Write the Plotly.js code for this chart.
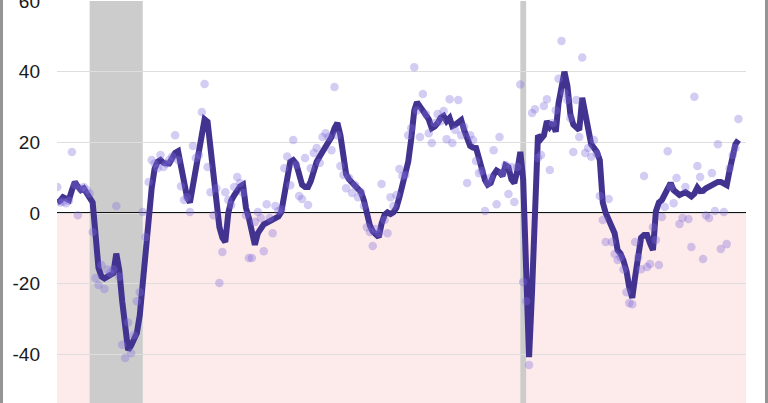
<!DOCTYPE html>
<html>
<head>
<meta charset="utf-8">
<script src="https://cdn.plot.ly/plotly-3.0.1.min.js"></script>
<style>
  html, body { margin: 0; padding: 0; overflow: hidden; background: #fff; }
  #wrap { position: relative; width: 768px; height: 403px; overflow: hidden; }
  #chart { position: absolute; left: 0; top: -30px; }
  .edge { position: absolute; top: 0; width: 3px; height: 403px; background: #959595; }
</style>
</head>
<body>
<div id="wrap">
  <div id="chart"></div>
  <div class="edge" style="left:0"></div>
  <div class="edge" style="right:0"></div>
</div>
<script>
// First month of the series; one value per month afterwards
const startYear = 2007;
const startMonth = 1;

// Smoothed index (line)
const smoothed = [
  3.0, 3.5, 4.5, 4.0, 3.7, 6.5, 8.8, 7.5, 6.5, 7.0,
  5.7, 4.5, 3.0, -6.5, -15.5, -18, -18.5, -18, -17.5, -17,
  -11.5, -16, -25, -33, -38.8, -37.5, -35.5, -34, -29, -19,
  -10.5, -1, 7, 12.5, 14.5, 15, 14.2, 14, 14, 15.5,
  17, 17.5, 13, 9, 4.5, 3, 7.5, 13.5, 16, 21,
  26.5, 25.8, 19, 9, 2, -4, -7, -8.2, 0, 3.5,
  5, 6.5, 7.5, 8, 1.5, -1.5, -6, -9, -5.7, -4,
  -3.2, -2.8, -2.4, -2, -1.4, -1, 0.3, 5.5, 11, 14.5,
  15, 14, 11, 8, 7.4, 7.4, 9, 12, 14.5, 16,
  17.3, 19, 20.5, 21.5, 24, 25.5, 22, 15.5, 11, 9.5,
  8.5, 7.8, 7, 6, 3.5, 0, -3.5, -5.2, -6, -6.8,
  -3, -0.5, 0.2, -0.3, 0.2, 1.5, 4.5, 8, 10.5, 14.5,
  21, 29, 31.4, 30, 28.6, 27.5, 26.5, 24, 24.5, 25.5,
  27, 27.5, 26, 26.9, 24.6, 25, 25.8, 26.3, 23.5, 20.5,
  19, 18.5, 18.4, 15.5, 12, 9.3, 8, 8.5, 10.8, 12,
  11.5, 10.5, 13.5, 13, 9.5, 8.5, 12, 17.3, 9.5, -14,
  -40.8, -22, 5, 22, 21, 22, 26, 24.4, 25.5, 23,
  31, 37, 40, 36, 28, 25, 24.2, 23.5, 32.6, 28.5,
  22.5, 19.5, 18.5, 17.3, 15, 3, 0, -2.3, -4, -5.7,
  -10.5, -11.5, -13.5, -16.5, -21, -24, -18, -13, -7, -6.2,
  -6.2, -8.5, -10.5, 0.5, 3, 3.7, 5, 6.5, 8.5, 6.5,
  5.5, 5.1, 5.5, 5.9, 5.3, 4.7, 5.5, 7.2, 6.2, 6.3,
  7, 7.5, 7.9, 8.5, 8.8, 8.8, 8.4, 7.9, 12.2, 17,
  19.5, 20.7
];

// Monthly readings (dots)
const monthly = [
  7.4, 3, 3.2, 2.8, 3.5, 17.3, 8, -0.6, 6.8, 7.4,
  6.5, 5.5, -5.4, -18.4, -20.4, -14.7, -21.5, -16, -17, -16,
  2, -18, -37.3, -41, -31, -39.6, -34.6, -25, -22.4, 0.3,
  -6.8, 8.8, 15, 14, 12.7, 16.4, 13, 14, 15, 16,
  22, 15, 7.6, 3.7, 4.5, 0.3, 19, 15.6, 16.4, 28.6,
  36.5, 13, 5.9, -0.6, 7, -19.8, -11, 5.9, 3.7, 2.3,
  7.4, 10.2, 8.5, 5.7, -0.6, -12.7, -12.7, -2.5, 0.3, -1.4,
  -10.8, 2.5, -1.4, -5.7, 2, 0.6, 1, 12.7, 16, 7.9,
  20.7, 13.6, 4.8, 4, 15.6, 2.3, 12.7, 17, 18.4, 14.2,
  21.5, 22.6, 21.5, 17.8, 35.7, 22, 13.3, 10.8, 7, 9.9,
  5.7, 7.9, 4.5, 5.9, 2, -4, -5.4, -9.3, -4.5, -5.7,
  8.2, -2, -5.7, 4.5, 2, 5.1, 12.5, 10.5, 10.8, 22,
  24, 41.3, 29, 21.5, 33.7, 28, 22.6, 19.8, 25.5, 28,
  26, 28.9, 20.9, 32.2, 19.8, 23.5, 32, 22, 24.4, 8.5,
  22, 20.7, 14.7, 11.3, 11.9, 0.6, 8.5, 10, 17.8, 2.5,
  21.5, 11.3, 13.6, 5.4, 13, 3.1, 13, 36.4, -19.5, -25,
  -43, 28.3, 29.4, 15.6, 16.4, 30.3, 32.2, 12.2, 25.5, 29.1,
  38, 48.7, 34, 32, 26.9, 17.3, 32, 21.5, 44, 17,
  18.4, 15.9, 20.7, 16.7, 4.8, -2, -8.2, 4, -8.2, -11.6,
  -13.3, -12.5, -16, -22.4, -25.5, -25.8, -8.2, -12.5, -15.9, 10.5,
  -15.3, -14.4, -4, -7.6, -14.7, -1.1, 1.7, 17.5, 7.4, 2.8,
  9.9, -3.1, -1.4, 7.4, -1.7, -9.6, 32.9, 13.3, 10.2, -13,
  -0.6, -1.4, 11.3, 0.6, 19.5, -10.2, 0.3, -8.8, 12.7, 16.4,
  18.4, 26.6
];

// Recession periods
const recessionStarts = ['2007-12-01', '2020-02-01'];
const recessionEnds = ['2009-06-01', '2020-04-01'];

const yTicks = [-40, -20, 0, 20, 40, 60];

function monthDate(i) {
  const m0 = (startMonth - 1) + i;
  const y = startYear + Math.floor(m0 / 12);
  const m = (m0 % 12) + 1;
  return y + '-' + String(m).padStart(2, '0') + '-01';
}
const n = Math.max(smoothed.length, monthly.length);
const months = [];
for (let i = 0; i < n; i++) months.push(monthDate(i));

const shapes = [];
// negative territory
shapes.push({
  type: 'rect', xref: 'paper', yref: 'y', x0: 0, x1: 1, y0: -100, y1: 0,
  fillcolor: '#fdeaea', line: { width: 0 }, layer: 'below'
});
for (let k = 0; k < recessionStarts.length; k++) {
  shapes.push({
    type: 'rect', xref: 'x', yref: 'paper',
    x0: recessionStarts[k], x1: recessionEnds[k], y0: 0, y1: 1,
    fillcolor: '#cccccc', line: { width: 0 }, layer: 'between'
  });
}
shapes.push({
  type: 'line', xref: 'paper', yref: 'y', x0: 0, x1: 1, y0: 0, y1: 0,
  line: { color: '#111', width: 2 }, layer: 'between'
});

const traces = [
  {
    type: 'scatter', mode: 'lines', x: months.slice(0, smoothed.length), y: smoothed,
    line: { color: '#41338f', width: 6 }, hoverinfo: 'skip', showlegend: false
  },
  {
    type: 'scatter', mode: 'markers', x: months.slice(0, monthly.length), y: monthly,
    marker: { color: 'rgba(130,110,222,0.35)', size: 8.5, line: { width: 0 } },
    hoverinfo: 'skip', showlegend: false
  }
];

const layout = {
  width: 768, height: 485,
  margin: { l: 57, r: 22, t: 31, b: 30 },
  paper_bgcolor: 'rgba(0,0,0,0)', plot_bgcolor: '#fff',
  showlegend: false,
  font: { family: 'Liberation Sans, Arial, sans-serif', size: 19, color: '#1a1a1a' },
  xaxis: {
    type: 'date', range: ['2006-12-29', '2026-06-18'],
    showgrid: false, zeroline: false, showticklabels: false, ticks: '', showline: false
  },
  yaxis: {
    range: [-60, 60.02], tickvals: yTicks, ticktext: yTicks.map(String),
    showgrid: true, gridcolor: '#dedede', gridwidth: 1,
    zeroline: false, showline: false, ticks: '', ticklabelstandoff: 16,
    tickfont: { size: 19, color: '#1a1a1a' }
  },
  shapes: shapes
};

Plotly.newPlot('chart', traces, layout, { staticPlot: true, displayModeBar: false });
</script>
</body>
</html>
